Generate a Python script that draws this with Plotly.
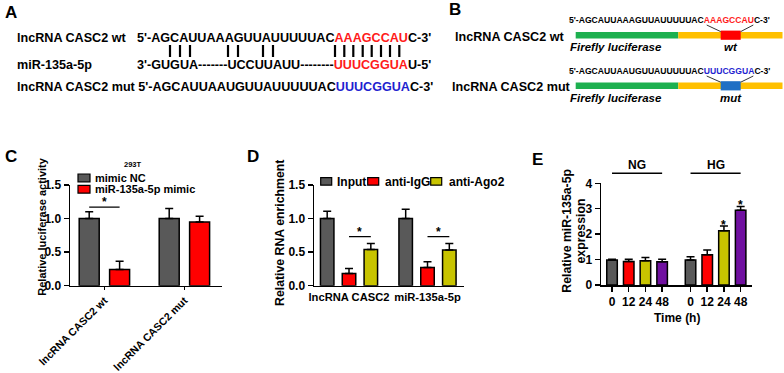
import plotly.graph_objects as go

W, H = 784, 373
def PX(x): return x / W
def PY(y): return 1 - y / H

FONT = "Arial, Liberation Sans, Helvetica, sans-serif"
GRAY, RED, YEL, PUR = "#595959", "#FF0000", "#C8C400", "#7010A0"

# ---------------- data ----------------
# Panel C
c_groups = ["lncRNA CASC2 wt", "lncRNA CASC2 mut"]
c_series = ["mimic NC", "miR-135a-5p mimic"]
c_nc = [1.00, 1.00]
c_nc_err = [0.10, 0.15]
c_mimic = [0.24, 0.95]
c_mimic_err = [0.125, 0.085]
c_sig_y = 1.17

# Panel D
d_groups = ["lncRNA CASC2", "miR-135a-5p"]
d_series = ["Input", "anti-IgG", "anti-Ago2"]
d_input = [1.00, 1.00]
d_input_err = [0.11, 0.14]
d_igg = [0.18, 0.27]
d_igg_err = [0.075, 0.085]
d_ago2 = [0.54, 0.53]
d_ago2_err = [0.09, 0.10]
d_sig_y = 0.73

# Panel E
e_times = ["0", "12", "24", "48"]
e_conditions = ["NG", "HG"]
e_ng = [0.98, 0.92, 0.95, 0.91]
e_ng_err = [0.03, 0.09, 0.13, 0.10]
e_hg = [0.98, 1.19, 2.13, 2.94]
e_hg_err = [0.13, 0.19, 0.19, 0.15]
e_star_y = [None, None, 2.49, 3.25]

fig = go.Figure()

def bar(x, y, err, color, xa, ya, width):
    fig.add_trace(go.Bar(
        x=x, y=y, width=width, xaxis=xa, yaxis=ya, showlegend=False, hoverinfo="skip",
        marker=dict(color=color, line=dict(color="black", width=1.5)),
        error_y=dict(type="data", array=err, arrayminus=[0] * len(err),
                     symmetric=False, color="black", thickness=1.5, width=4),
    ))

# C bars
c_off, c_w = 0.19, 0.25
bar([i - c_off for i in range(2)], c_nc, c_nc_err, GRAY, "x", "y", c_w)
bar([i + c_off for i in range(2)], c_mimic, c_mimic_err, RED, "x", "y", c_w)

# D bars
d_off, d_w = 0.278, 0.172
bar([i - d_off for i in range(2)], d_input, d_input_err, GRAY, "x2", "y2", d_w)
bar([i for i in range(2)], d_igg, d_igg_err, RED, "x2", "y2", d_w)
bar([i + d_off for i in range(2)], d_ago2, d_ago2_err, YEL, "x2", "y2", d_w)

# E bars
e_cols = [GRAY, RED, YEL, PUR]
e_gap = 4.7
e_x = [0, 1, 2, 3] + [e_gap + k for k in range(4)]
for k in range(4):
    bar([e_x[k], e_x[4 + k]], [e_ng[k], e_hg[k]], [e_ng_err[k], e_hg_err[k]],
        e_cols[k], "x3", "y3", 0.63)

axis_common = dict(showline=True, linecolor="black", linewidth=1.5, showgrid=False,
                   zeroline=False, ticks="outside", ticklen=5, tickwidth=1.5,
                   tickcolor="black", automargin=False,
                   tickfont=dict(family=FONT, size=12, color="black", weight="bold"),
                   fixedrange=True)

yC = [PY(285.7), PY(185)]
fig.update_layout(
    width=W, height=H, margin=dict(l=0, r=0, t=0, b=0, autoexpand=False),
    paper_bgcolor="white", plot_bgcolor="white", barmode="overlay",
    showlegend=False,
    xaxis=dict(axis_common, domain=[PX(70), PX(222)], range=[-0.43, 1.47],
               tickvals=[0, 1], ticktext=c_groups, tickangle=-45, anchor="y", ticklen=3,
               tickfont=dict(family=FONT, size=10.6, color="black", weight="bold")),
    yaxis=dict(axis_common, domain=yC, range=[0, 1.5], tickvals=[0, 0.5, 1.0, 1.5],
               ticktext=["0.0", "0.5", "1.0", "1.5"], anchor="x"),
    xaxis2=dict(axis_common, domain=[PX(314), PX(464)], range=[-0.446, 1.465],
                tickvals=[0, 1], ticktext=d_groups, ticks="", tickangle=0, anchor="y2",
                tickfont=dict(family=FONT, size=11.2, color="black", weight="bold")),
    yaxis2=dict(axis_common, domain=yC, range=[0, 1.5], tickvals=[0, 0.5, 1.0, 1.5],
                ticktext=["0.0", "0.5", "1.0", "1.5"], anchor="x2"),
    xaxis3=dict(axis_common, domain=[PX(601), PX(752)], range=[-0.66, 8.38],
                tickvals=e_x, ticktext=e_times * 2, tickangle=0, anchor="y3"),
    yaxis3=dict(axis_common, domain=[PY(285), PY(183.3)], range=[0, 4],
                tickvals=[0, 1, 2, 3, 4], anchor="x3"),
)

anns = []
shapes = []

def ann(x, y, text, size, color="black", xanchor="left", angle=0, yanchor="middle"):
    anns.append(dict(x=PX(x), y=PY(y), xref="paper", yref="paper", text=text,
                     showarrow=False, xanchor=xanchor, yanchor=yanchor, textangle=angle,
                     font=dict(family=FONT, size=size, color=color, weight="bold")))

def rect(x0, y0, x1, y1, fill, line=None, lw=0):
    shapes.append(dict(type="rect", xref="paper", yref="paper",
                       x0=PX(x0), x1=PX(x1), y0=PY(y0), y1=PY(y1),
                       fillcolor=fill, line=dict(color=line or fill, width=lw)))

def seg(x0, y0, x1, y1, w=1.0):
    shapes.append(dict(type="line", xref="paper", yref="paper",
                       x0=PX(x0), x1=PX(x1), y0=PY(y0), y1=PY(y1),
                       line=dict(color="black", width=w)))

def red(t): return f"<span style='color:#FF1A1A'>{t}</span>"
def blue(t): return f"<span style='color:#1F1FD0'>{t}</span>"

# Panel letters
ann(3, 12.5, "A", 17)
ann(447, 9.5, "B", 17)
ann(3, 156, "C", 17)
ann(245, 156, "D", 17)
ann(530, 159, "E", 17)

# Panel A
A_SZ = 12.6
ann(15, 38, "lncRNA CASC2 wt", A_SZ)
ann(135, 38, "5'-AGCAUUAAAGUUAUUUUUAC" + red("AAAGCCAU") + "C-3'", A_SZ)
ann(15, 65, "miR-135a-5p", A_SZ)
ann(135, 65, "3'-GUGUA-------UCCUUAUU--------" + red("UUUCGGUA") + "U-5'", A_SZ)
ann(15, 87, "lncRNA CASC2 mut 5'-AGCAUUAAUGUUAUUUUUAC" + blue("UUUCGGUA") + "C-3'", A_SZ)
for bx in [170, 180, 190, 228, 238, 263, 273, 335, 344.3, 353.3, 362.7, 371.7, 381, 390, 399.3]:
    seg(bx, 45, bx, 57, 2.2)

# Panel B
ann(453, 37.3, "lncRNA CASC2 wt", A_SZ)
ann(450, 87.3, "lncRNA CASC2 mut", A_SZ)
ann(566.7, 20, "5'-AGCAUUAAAGUUAUUUUUAC" + red("AAAGCCAU") + "C-3'", 8.6)
ann(566.7, 71, "5'-AGCAUUAAUGUUAUUUUUAC" + blue("UUUCGGUA") + "C-3'", 8.6)
for yc, box, lab, ys in [(35.2, "#FF0000", "wt", 20), (85.8, "#1F6FC4", "mut", 71)]:
    rect(575.7, yc - 3.3, 678.3, yc + 3.3, "#1DB04F")
    rect(678.3, yc - 3.3, 782.5, yc + 3.3, "#FFC000")
    rect(720.7, yc - 4.6, 740.7, yc + 4.6, box)
    seg(706.7, ys + 5, 720.7, yc - 3.6, 0.8)
    seg(753.3, ys + 5, 740.7, yc - 3.6, 0.8)
    ann(568, yc + 11.7, "<i>Firefly luciferase</i>", 11.5)
    ann(730.5, yc + 11.7, f"<i>{lab}</i>", 11.5, xanchor="center")

# Panel C extras
ann(133, 164, "293T", 7.5, xanchor="center")
ann(41.7, 227, "Relative luciferase activity", 11, xanchor="center", angle=-90)
for i, (s, col) in enumerate(zip(c_series, [GRAY, RED])):
    y0 = 174 + i * 11.3
    rect(78, y0, 90, y0 + 7.8, col, "black", 1.2)
    ann(93, y0 + 4, s, 11)
shapes.append(dict(type="line", xref="x", yref="y", x0=-c_off, x1=c_off,
                   y0=c_sig_y, y1=c_sig_y, line=dict(color="black", width=1.2)))
anns.append(dict(x=0, y=c_sig_y, xref="x", yref="y", text="*", showarrow=False,
                 yanchor="bottom", yshift=-4, font=dict(family=FONT, size=12, color="black", weight="bold")))

# Panel D extras
ann(280, 233, "Relative RNA enrichment", 12.3, xanchor="center", angle=-90)
for s, col, sx, tx in zip(d_series, [GRAY, RED, YEL], [320.7, 367.7, 430.7], [335, 383, 447]):
    rect(sx, 177.7, sx + 11, 185.2, col, "black", 1.2)
    ann(tx, 181.5, s, 12)
for g in range(2):
    shapes.append(dict(type="line", xref="x2", yref="y2", x0=g, x1=g + d_off,
                       y0=d_sig_y, y1=d_sig_y, line=dict(color="black", width=1.2)))
    anns.append(dict(x=g + d_off / 2, y=d_sig_y, xref="x2", yref="y2", text="*", showarrow=False,
                     yanchor="bottom", yshift=-4, font=dict(family=FONT, size=12, color="black", weight="bold")))

# Panel E extras
ann(566.7, 231, "Relative miR-135a-5p", 12.3, xanchor="center", angle=-90)
ann(580.5, 231, "expression", 12.3, xanchor="center", angle=-90)
ann(676.7, 318, "Time (h)", 12, xanchor="center")
for k, sy in enumerate(e_star_y):
    if sy is not None:
        anns.append(dict(x=e_x[4 + k], y=sy, xref="x3", yref="y3", text="*", showarrow=False,
                         yanchor="middle", yshift=-3,
                         font=dict(family=FONT, size=12, color="black", weight="bold")))
for c, name in enumerate(e_conditions):
    xs = e_x[c * 4: c * 4 + 4]
    shapes.append(dict(type="line", xref="x3", yref="paper", x0=xs[0], x1=xs[-1],
                       y0=PY(173.3), y1=PY(173.3), line=dict(color="black", width=1.5)))
    anns.append(dict(x=(xs[0] + xs[-1]) / 2, y=PY(165), xref="x3", yref="paper", text=name,
                     showarrow=False, yanchor="middle",
                     font=dict(family=FONT, size=12, color="black", weight="bold")))

fig.update_layout(annotations=anns, shapes=shapes, hovermode=False)
fig.write_html("out.html", config={"displayModeBar": False, "staticPlot": True},
               post_script="document.body.style.margin='0px';document.body.style.overflow='hidden';")
